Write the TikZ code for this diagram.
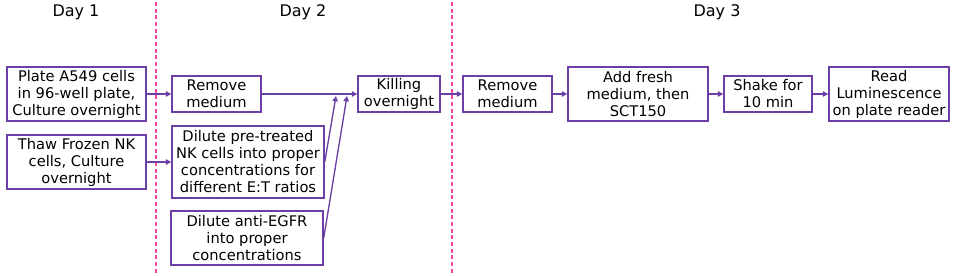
\documentclass[tikz,border=0pt]{standalone}
\usepackage{fontspec}
\setmainfont{DejaVu Sans}
\usepackage{xcolor}
\usetikzlibrary{arrows.meta,positioning,calc}
\definecolor{stepviolet}{HTML}{6B3FA6}
\definecolor{daypink}{HTML}{F0479A}

\begin{document}
\begin{tikzpicture}[x=0.75pt, y=-0.75pt]
\tikzset{box/.style={draw=stepviolet, line width=1.1pt, align=center, inner sep=0.5pt, font=\fontsize{11}{12.75}\selectfont},
  flow/.style={draw=stepviolet, line width=1pt, -{Triangle[length=4pt,width=4pt]}},
  daysep/.style={draw=daypink, line width=0.9pt, dash pattern=on 3pt off 2pt},
  daylabel/.style={font=\fontsize{12}{14}\selectfont}}
\useasboundingbox (0,0) rectangle (960,275);
% day labels and separators
\node[daylabel] (day1) at (76,12) {Day 1};
\node[daylabel] (day2) at (303,12) {Day 2};
\node[daylabel] (day3) at (717,12) {Day 3};
\draw[daysep] (156,2) -- (156,275);
\draw[daysep] (452,2) -- (452,275);
% day 1
\node[box, minimum width=104pt, minimum height=40.5pt] (plate) at (76.5,94) {Plate A549 cells\\in 96-well plate,\\Culture overnight};
\node[box, minimum width=104pt, minimum height=40.5pt] (thaw) at (76.5,162) {Thaw Frozen NK\\cells, Culture\\overnight};
% day 2
\node[box, minimum width=66.75pt, minimum height=27pt] (rmA) at (216.5,94) {Remove\\medium};
\node[box, minimum width=114pt, minimum height=54pt] (dilNK) at (248,162) {Dilute pre-treated\\NK cells into proper\\concentrations for\\different E:T ratios};
\node[box, minimum width=114pt, minimum height=40.5pt] (dilAb) at (247,238) {Dilute anti-EGFR\\into proper\\concentrations};
\node[box, minimum width=61.5pt, minimum height=27pt] (kill) at (399,94) {Killing\\overnight};
% day 3
\node[box, minimum width=66.75pt, minimum height=27pt] (rmB) at (507.5,94) {Remove\\medium};
\node[box, minimum width=105pt, minimum height=40.5pt] (add) at (638,94) {Add fresh\\medium, then\\SCT150};
\node[box, minimum width=66pt, minimum height=27pt] (shake) at (768,94) {Shake for\\10 min};
\node[box, minimum width=90pt, minimum height=40.5pt] (read) at (889,94) {Read\\Luminescence\\on plate reader};
\coordinate (joinNK) at (336,96);
\coordinate (joinAb) at (347,96);
\draw[flow] (plate) -- (rmA);
\draw[flow] (thaw) -- (dilNK);
\draw[flow] (rmA) -- (kill);
\draw[flow] (dilNK.east) -- (joinNK);
\draw[flow] (dilAb.east) -- (joinAb);
\draw[flow] (kill) -- (rmB);
\draw[flow] (rmB) -- (add);
\draw[flow] (add) -- (shake);
\draw[flow] (shake) -- (read);
\end{tikzpicture}
\end{document}
